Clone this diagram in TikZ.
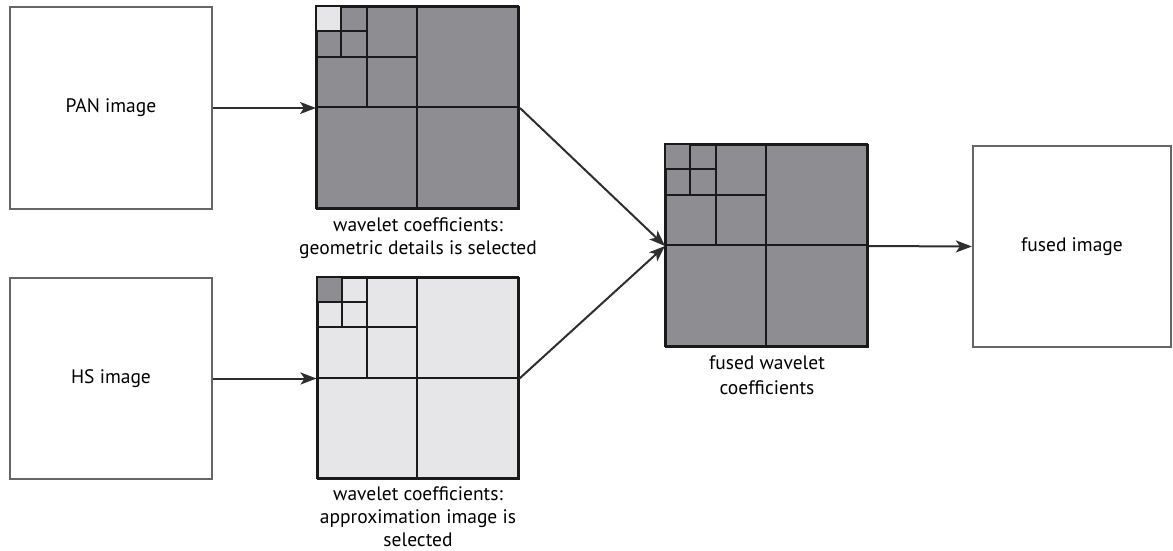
\documentclass[tikz,border=0pt]{standalone}
\usepackage{fontspec}
\setmainfont{PT Sans}
\usetikzlibrary{arrows.meta,calc}
\definecolor{dk}{HTML}{8E8E92}
\definecolor{lt}{HTML}{E6E6E8}
\definecolor{bord}{HTML}{666666}
\definecolor{ink}{HTML}{1A1A1A}
\definecolor{arrc}{HTML}{2E2E2E}
\newcommand\wgrid[3]{%
 \begin{scope}[shift={(#1.north west)}]
  \fill[#3] (0,0) rectangle (#2/8,#2/8);
  \draw[gridln] (0,#2/2) -- (#2,#2/2) (#2/2,0) -- (#2/2,#2)
    (0,#2/4) -- (#2/2,#2/4) (#2/4,0) -- (#2/4,#2/2)
    (0,#2/8) -- (#2/4,#2/8) (#2/8,0) -- (#2/8,#2/4);
  \draw[gridln] (0,0) rectangle (#2,#2);
 \end{scope}}
\tikzset{
  imgbox/.style={draw=bord, line width=2.2pt, minimum width=202pt, minimum height=202pt,
    inner sep=0pt, font=\fontsize{19.5}{23}\selectfont},
  wsq/.style={draw=ink, line width=2pt, minimum size=202pt, inner sep=0pt},
  gridln/.style={draw=ink, line width=2pt},
  captxt/.style={align=center, font=\fontsize{19.5}{23}\selectfont, anchor=north, inner sep=0pt},
  arr/.style={draw=arrc, line width=2pt, -{Stealth[length=16pt,width=12pt,inset=4pt]}}
}
\begin{document}
\begin{tikzpicture}[x=1pt,y=-1pt]
\useasboundingbox (0,0) rectangle (1173,550);
\node[imgbox] (pan) at (111,108) {PAN image};
\node[imgbox, minimum height=201pt] (hs) at (111,378.5) {HS image};
\node[wsq, fill=dk] (w1) at (418,108) {};
\node[wsq, fill=lt, minimum size=201pt] (w2) at (418,378.5) {};
\node[wsq, fill=dk] (wf) at (767,246) {};
\node[imgbox, minimum width=198pt, minimum height=201pt] (fused) at (1072,246.5) {fused image};
\wgrid{w1}{202}{lt}
\wgrid{w2}{201}{dk}
\wgrid{wf}{202}{dk}
\node[captxt] (c1) at ($(w1.south)+(0,7)$) {wavelet coefficients:\\geometric details is selected};
\node[captxt] (c2) at ($(w2.south)+(0,6)$) {wavelet coefficients:\\approximation image is\\selected};
\node[captxt, font=\fontsize{19.5}{25}\selectfont] (c3) at ($(wf.south)+(0,8)$) {fused wavelet\\coefficients};
\draw[arr] (pan.east) -- (w1.west);
\draw[arr] (hs.east) -- (w2.west);
\draw[arr] (w1.east) -- (wf.west);
\draw[arr] (w2.east) -- (wf.west);
\draw[arr] (wf.east) -- (fused.west);
\end{tikzpicture}
\end{document}
